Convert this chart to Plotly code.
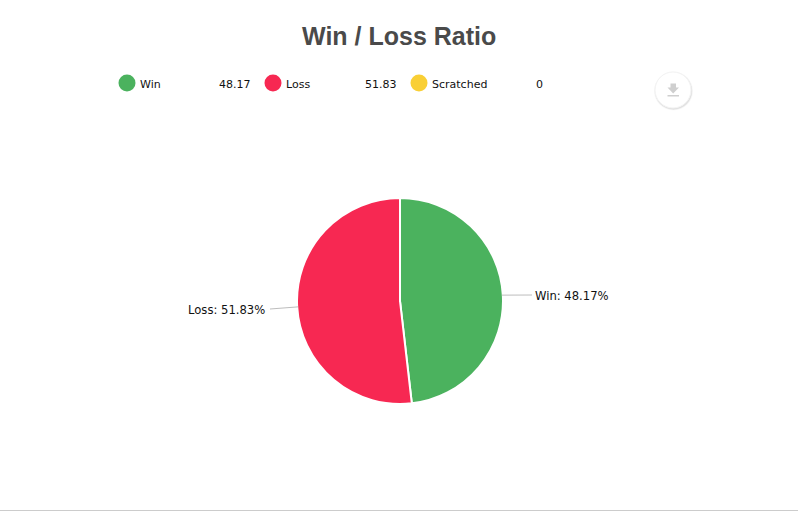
import math
import plotly.graph_objects as go

W, H = 798, 511
title = "Win / Loss Ratio"
categories = ["Win", "Loss", "Scratched"]
values = [48.17, 51.83, 0]
colors = ["#4BB25E", "#F72852", "#F9CF35"]

CX, CY, R = 400, 301, 103
TEXT = "DejaVu Sans"


def px(x):
    return x / W


def py(y):
    return 1 - y / H


def circle(cx, cy, r, fill, line=None, lw=0):
    return dict(type="circle", xref="paper", yref="paper",
                x0=px(cx - r), x1=px(cx + r), y0=py(cy + r), y1=py(cy - r),
                fillcolor=fill, line=dict(color=line or "rgba(0,0,0,0)", width=lw))


def label(x, y, text, size=11, color="#111", anchor="left", family=TEXT, bold=False):
    return dict(xref="paper", yref="paper", x=px(x), y=py(y), text=f"<b>{text}</b>" if bold else text,
                showarrow=False, xanchor=anchor, yanchor="middle",
                font=dict(family=family, size=size, color=color))


fig = go.Figure(go.Pie(
    labels=categories, values=values, sort=False, direction="clockwise", rotation=0,
    marker=dict(colors=colors, line=dict(color="#ffffff", width=2)),
    textinfo="none", hoverinfo="label+percent", showlegend=False,
    domain=dict(x=[px(CX - R), px(CX + R)], y=[py(CY + R), py(CY - R)]),
))

shapes, annos = [], []
annos.append(label(399, 36, title, size=25, color="#4A4A4A", anchor="center",
                   family="Liberation Sans", bold=True))

# legend row
legend_x = [127, 273, 419]
for cat, val, col, x in zip(categories, values, colors, legend_x):
    shapes.append(circle(x, 83, 8.5, col))
    annos.append(label(x + 10.5, 84, cat))
    annos.append(label(x + 125.5, 84, f"{val:g}", anchor="right"))

# leader lines and pie labels, positioned from the slice mid-angles
total = sum(values)
cum = 0
label_ends = {"Win": (532, 295, "left"), "Loss": (270, 309, "right")}
for cat, val in zip(categories, values):
    mid = (cum + val / 2) / total * 2 * math.pi
    cum += val
    if val == 0:
        continue
    sx = CX + (R - 1) * math.sin(mid)
    sy = CY - (R - 1) * math.cos(mid)
    ex, ey, anc = label_ends[cat]
    shapes.append(dict(type="line", xref="paper", yref="paper",
                       x0=px(sx), y0=py(sy), x1=px(ex), y1=py(ey),
                       line=dict(color="#BDBDBD", width=1)))
    tx = ex + 1 if anc == "left" else ex - 3
    annos.append(label(tx, ey + 1, f"{cat}: {val:.2f}%", size=11.6, anchor=anc))

# export button: soft shadow, disc, download glyph
for r, a in [(19.6, 0.025), (19, 0.04), (18.5, 0.06)]:
    shapes.append(circle(673.5, 91, r, f"rgba(0,0,0,{a})"))
shapes.append(circle(673, 90, 18, "#ffffff", "#F3F3F3", 1))
shapes.append(dict(type="path", xref="paper", yref="paper",
                   path="M {} {} L {} {} L {} {} L {} {} L {} {} L {} {} L {} {} Z".format(
                       px(670.5), py(83.5), px(676), py(83.5), px(676), py(87.5),
                       px(679), py(87.5), px(673.2), py(93.5), px(667.5), py(87.5), px(670.5), py(87.5)),
                   fillcolor="#CFCFCF", line=dict(width=0)))
shapes.append(dict(type="rect", xref="paper", yref="paper",
                   x0=px(667.5), x1=px(679), y0=py(96.5), y1=py(95),
                   fillcolor="#CFCFCF", line=dict(width=0)))

# page rule along the bottom
shapes.append(dict(type="rect", xref="paper", yref="paper",
                   x0=0, x1=1, y0=py(511), y1=py(510),
                   fillcolor="#CCCCCC", line=dict(width=0)))

fig.update_layout(width=W, height=H, margin=dict(l=0, r=0, t=0, b=0),
                  paper_bgcolor="#ffffff", plot_bgcolor="#ffffff",
                  shapes=shapes, annotations=annos)
fig.write_html("out.html", config=dict(displayModeBar=False),
               post_script="document.body.style.margin='0';document.body.style.overflow='hidden';")
